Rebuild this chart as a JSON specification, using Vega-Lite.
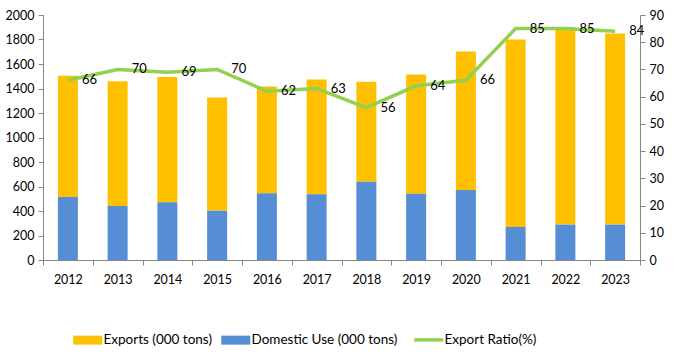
{
  "$schema": "https://vega.github.io/schema/vega-lite/v6.json",
  "width": 597,
  "height": 245,
  "padding": {"left": 5, "top": 9, "right": 5, "bottom": 0},
  "background": "white",
  "datasets": {
    "bars": [
      {"year": "2012", "series": "Exports (000 tons)", "value": 990},
      {"year": "2012", "series": "Domestic Use (000 tons)", "value": 515},
      {"year": "2013", "series": "Exports (000 tons)", "value": 1020},
      {"year": "2013", "series": "Domestic Use (000 tons)", "value": 440},
      {"year": "2014", "series": "Exports (000 tons)", "value": 1022},
      {"year": "2014", "series": "Domestic Use (000 tons)", "value": 471},
      {"year": "2015", "series": "Exports (000 tons)", "value": 924},
      {"year": "2015", "series": "Domestic Use (000 tons)", "value": 403},
      {"year": "2016", "series": "Exports (000 tons)", "value": 872},
      {"year": "2016", "series": "Domestic Use (000 tons)", "value": 545},
      {"year": "2017", "series": "Exports (000 tons)", "value": 937},
      {"year": "2017", "series": "Domestic Use (000 tons)", "value": 537},
      {"year": "2018", "series": "Exports (000 tons)", "value": 817},
      {"year": "2018", "series": "Domestic Use (000 tons)", "value": 638},
      {"year": "2019", "series": "Exports (000 tons)", "value": 975},
      {"year": "2019", "series": "Domestic Use (000 tons)", "value": 540},
      {"year": "2020", "series": "Exports (000 tons)", "value": 1131},
      {"year": "2020", "series": "Domestic Use (000 tons)", "value": 572},
      {"year": "2021", "series": "Exports (000 tons)", "value": 1531},
      {"year": "2021", "series": "Domestic Use (000 tons)", "value": 270},
      {"year": "2022", "series": "Exports (000 tons)", "value": 1602},
      {"year": "2022", "series": "Domestic Use (000 tons)", "value": 289},
      {"year": "2023", "series": "Exports (000 tons)", "value": 1561},
      {"year": "2023", "series": "Domestic Use (000 tons)", "value": 289}
    ],
    "ratio": [
      {"year": "2012", "ratio": 66},
      {"year": "2013", "ratio": 70},
      {"year": "2014", "ratio": 69},
      {"year": "2015", "ratio": 70},
      {"year": "2016", "ratio": 62},
      {"year": "2017", "ratio": 63},
      {"year": "2018", "ratio": 56},
      {"year": "2019", "ratio": 64},
      {"year": "2020", "ratio": 66},
      {"year": "2021", "ratio": 85},
      {"year": "2022", "ratio": 85},
      {"year": "2023", "ratio": 84}
    ]
  },
  "config": {
    "font": "Lato",
    "view": {"stroke": null},
    "axis": {
      "domainColor": "#868686",
      "tickColor": "#868686",
      "grid": false,
      "labelFont": "Lato",
      "labelFontSize": 12.5,
      "labelColor": "#000000",
      "tickSize": 5,
      "title": null
    },
    "legend": {
      "labelFont": "Lato",
      "labelFontSize": 13.5,
      "labelColor": "#000000"
    }
  },
  "layer": [
    {
      "data": {"name": "bars"},
      "mark": {"type": "bar", "width": 20},
      "encoding": {
        "x": {
          "field": "year",
          "type": "ordinal",
          "scale": {"paddingInner": 0, "paddingOuter": 0},
          "axis": {"labelAngle": 0, "tickBand": "extent", "labelPadding": 8, "title": null}
        },
        "y": {
          "field": "value",
          "type": "quantitative",
          "stack": "zero",
          "scale": {"domain": [0, 2000]},
          "axis": {"values": [0, 200, 400, 600, 800, 1000, 1200, 1400, 1600, 1800, 2000], "format": "d", "labelPadding": 4, "title": null}
        },
        "color": {
          "field": "series",
          "type": "nominal",
          "scale": {
            "domain": ["Exports (000 tons)", "Domestic Use (000 tons)", "Export Ratio(%)"],
            "range": ["#FFC000", "#558ED5", "#92D050"]
          },
          "legend": {
            "title": null,
            "orient": "none",
            "legendX": 38,
            "legendY": 318,
            "direction": "horizontal",
            "symbolType": "square",
            "symbolSize": 841,
            "labelOffset": 9,
            "columnPadding": 9,
            "encode": {
              "symbols": {
                "update": {
                  "shape": {"signal": "datum.value === 'Export Ratio(%)' ? 'stroke' : 'M-1,-0.31H1V0.31H-1Z'"},
                  "fill": {"signal": "datum.value === 'Export Ratio(%)' ? 'transparent' : scale('color', datum.value)"},
                  "stroke": {"signal": "scale('color', datum.value)"},
                  "strokeWidth": {"signal": "datum.value === 'Export Ratio(%)' ? 3.5 : 0"},
                  "opacity": {"value": 1},
                  "fillOpacity": {"value": 1},
                  "strokeOpacity": {"value": 1}
                }
              }
            }
          }
        },
        "order": {"field": "series", "sort": "ascending"}
      }
    },
    {
      "data": {"name": "ratio"},
      "encoding": {
        "x": {"field": "year", "type": "ordinal"},
        "y": {
          "field": "ratio",
          "type": "quantitative",
          "scale": {"domain": [0, 90]},
          "axis": {"orient": "right", "values": [0, 10, 20, 30, 40, 50, 60, 70, 80, 90], "labelPadding": 4, "title": null}
        }
      },
      "layer": [
        {
          "mark": {"type": "line", "strokeWidth": 3.5},
          "encoding": {
            "color": {"datum": "Export Ratio(%)", "type": "nominal"}
          }
        },
        {
          "mark": {"type": "text", "align": "left", "baseline": "middle", "dx": 14, "fontSize": 13, "font": "Lato", "color": "#000000"},
          "encoding": {"text": {"field": "ratio", "type": "quantitative"}}
        }
      ]
    }
  ],
  "resolve": {"scale": {"y": "independent"}}
}
